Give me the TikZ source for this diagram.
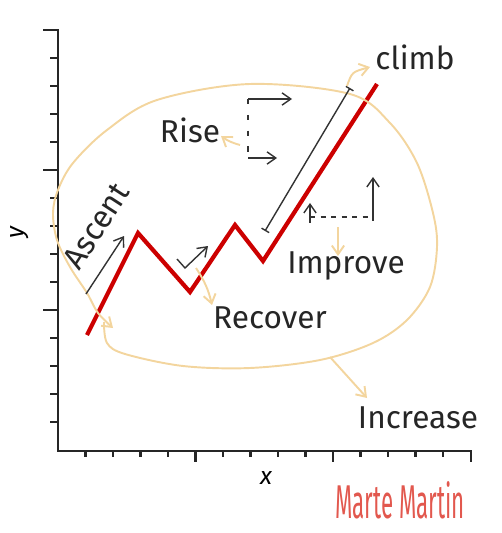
\documentclass[tikz,border=0pt]{standalone}
\usepackage{fontspec}
\setmainfont{Fira Sans}
\usetikzlibrary{arrows.meta,positioning}

\definecolor{trendred}{RGB}{204,0,0}
\definecolor{loopcolor}{RGB}{243,213,158}
\definecolor{signred}{RGB}{226,88,78}

\begin{document}
\begin{tikzpicture}[x=0.02cm, y=-0.02cm,
    >={Straight Barb[length=5pt,width=7pt]},
    axis/.style={line width=1.6pt, black!85},
    ink/.style={line width=0.8pt, black!80},
    trend/.style={line width=2.4pt, trendred, line join=miter},
    hint/.style={->, line width=1.1pt, loopcolor},
    word/.style={font=\fontsize{18}{20}\selectfont, text=black!85, inner sep=0pt},
    sign/.style={font=\fontsize{27}{29}\selectfont, text=signred, xscale=0.47, inner sep=0pt}]

    \useasboundingbox (0,0) rectangle (502,533);

    % axes and ticks
    \draw[axis] (43,30) -- (58,30) -- (58,451) -- (471,451) -- (471,462);
    \foreach \k in {1,...,14} \draw[axis] (50,30+28*\k) -- (58,30+28*\k);
    \foreach \k in {5,10} \draw[axis] (43,30+28*\k) -- (58,30+28*\k);
    \foreach \k in {1,...,14} \draw[axis] (58+27.5*\k,451) -- ++(0,6);
    \foreach \k in {5,10} \draw[axis] (58+27.5*\k,451) -- ++(0,11);
    \node[rotate=90, font=\itshape\fontsize{14}{16}\selectfont] (ylabel) at (20,233) {y};
    \node[font=\itshape\fontsize{14}{16}\selectfont] (xlabel) at (266,478) {x};

    % the trend line
    \coordinate (p0) at (87,335);
    \coordinate (p1) at (138,233);
    \coordinate (p2) at (190,292);
    \coordinate (p3) at (235,225);
    \coordinate (p4) at (263,261);
    \coordinate (p5) at (377,84);
    \draw[trend] (p0) -- (p1) -- (p2) -- (p3) -- (p4) -- (p5);

    % the big loop
    \draw[->, line width=1.1pt, loopcolor] plot[smooth, tension=0.55] coordinates {(104,322) (107,343) (125,354) (183,366) (250,368) (320,360) (373,343) (407,320) (430,287) (437,247) (433,213) (417,163) (390,123) (350,94) (250,84) (157,100) (107,130) (73,163) (58,190) (53,213) (57,240) (70,267) (87,293) (98,313) (113,328)};

    \node[word] (climb) at (415,57) {climb};
    \node[word] (rise) at (190,130) {Rise};
    \node[word] (improve) at (346,266) {Improve};
    \node[word] (recover) at (270,318) {Recover};
    \node[word] (increase) at (418,418) {Increase};
    \node[word, rotate=57] (ascent) at (96,226) {Ascent};
    \node[sign] (author) at (400,500) {Marte Martin};

    % black sketch marks
    \draw[ink, {Bar[width=5pt]}-{Bar[width=5pt]}] (265,231) -- (350,88);
    \draw[ink, ->] (86,294) -- (124,236);
    \draw[ink, ->] (177,259) -- (185,268) -- (208,246);

    \coordinate (risetop) at (248,99);
    \coordinate (risebot) at (248,158);
    \draw[ink, dash pattern=on 3pt off 6pt] (risetop) -- (risebot);
    \draw[ink, ->] (risetop) -- (292,99);
    \draw[ink, ->] (risebot) -- (277,158);

    \coordinate (impleft) at (310,217);
    \coordinate (impright) at (373,217);
    \draw[ink, dashed] (impleft) -- (impright);
    \draw[ink, ->] (310,223) -- (310,203);
    \draw[ink, ->] (373,221) -- (373,177);

    % pointers to the words
    \draw[hint] (240,145) to[bend left=10] (221,136);
    \draw[hint] (196,268) to[bend left=10] (212,305);
    \draw[hint] (338,227) -- (338,256);
    \draw[hint] (347,86) .. controls (352,72) .. (370,67);
    \draw[hint] (330,357) -- (367,398);

\end{tikzpicture}
\end{document}
